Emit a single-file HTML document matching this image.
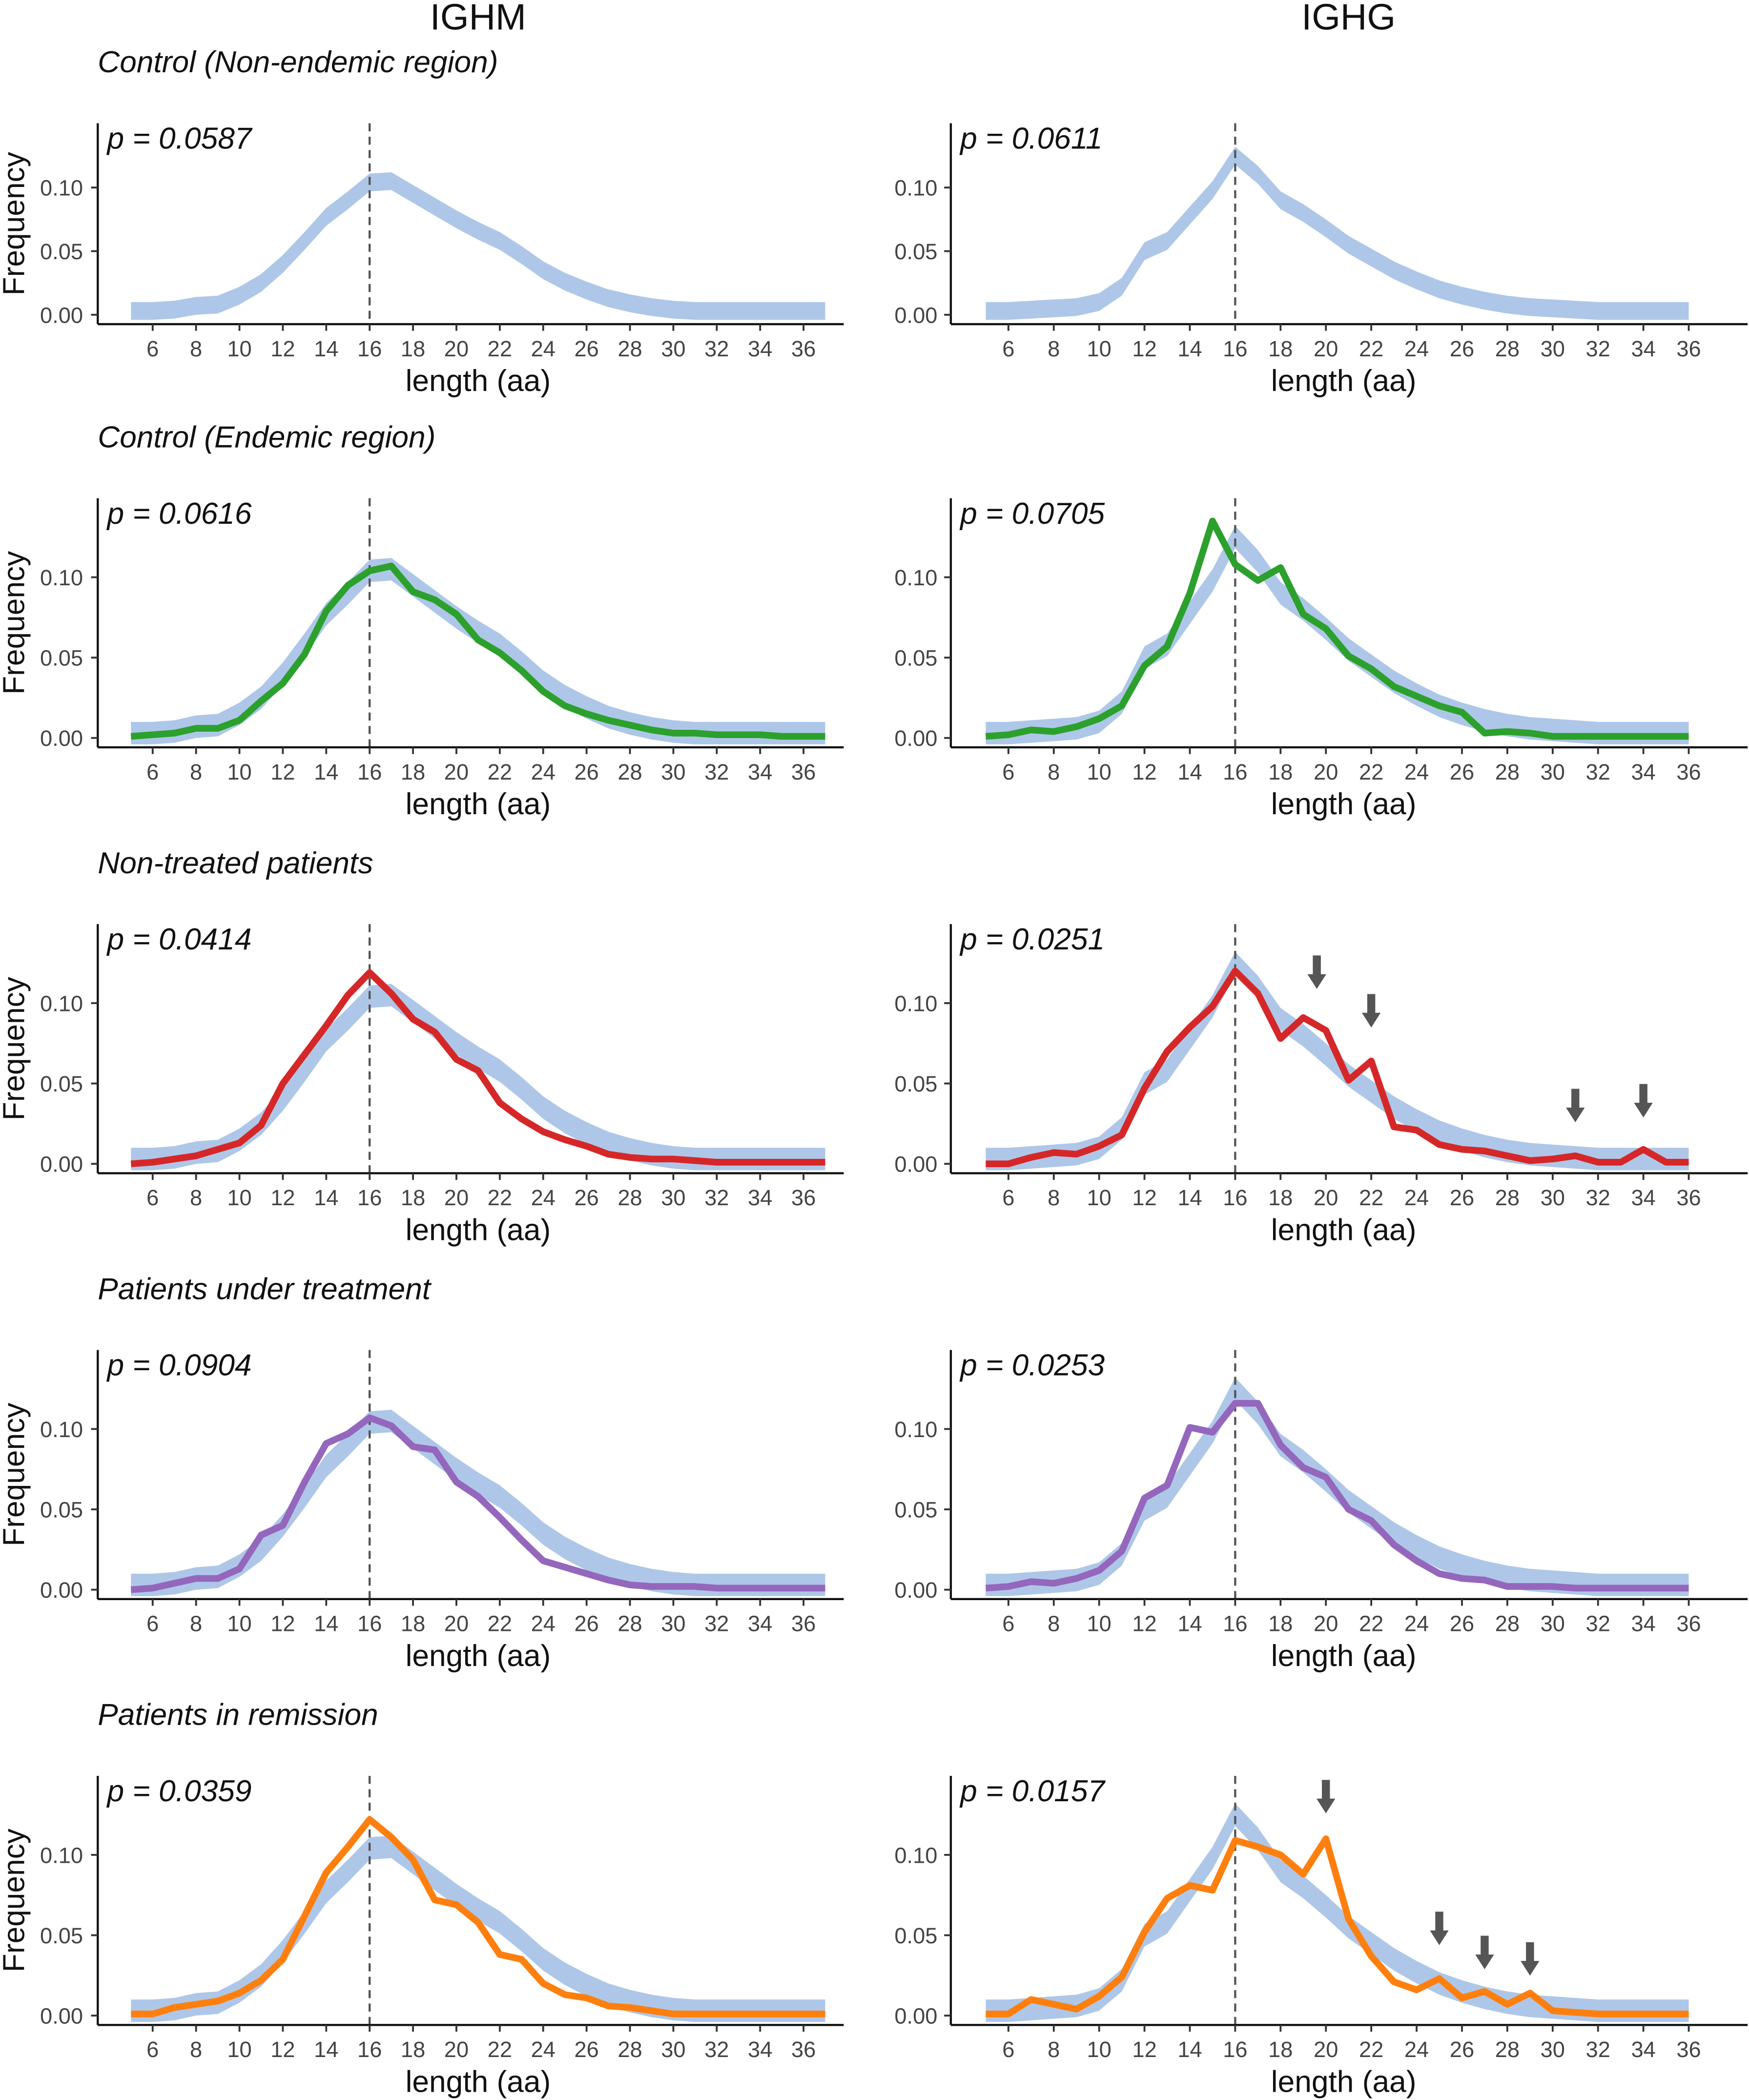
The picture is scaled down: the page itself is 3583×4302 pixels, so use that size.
<!DOCTYPE html>
<html><head><meta charset="utf-8">
<style>
html,body{margin:0;padding:0;background:#fff;}
svg{display:block;}
text{font-family:"Liberation Sans",Arial,sans-serif;}
</style></head>
<body>
<svg id="chart" width="3583" height="4302" viewBox="0 0 1306 1568" xmlns="http://www.w3.org/2000/svg">
<text x="357" y="22" font-size="27.5" text-anchor="middle" fill="#111">IGHM</text>
<text x="1007" y="22" font-size="27.5" text-anchor="middle" fill="#111">IGHG</text>
</svg>
<script>
const lengthsM = [5,6,7,8,9,10,11,12,13,14,15,16,17,18,19,20,21,22,23,24,25,26,27,28,29,30,31,32,33,34,35,36,37];
const lengthsG = [5,6,7,8,9,10,11,12,13,14,15,16,17,18,19,20,21,22,23,24,25,26,27,28,29,30,31,32,33,34,35,36];
const xTicks = [6,8,10,12,14,16,18,20,22,24,26,28,30,32,34,36];
const yTicks = [0,0.05,0.10];
const yTickLabels = ["0.00","0.05","0.10"];
const bandHalfWidth = 0.007;
const bandM = [0.003,0.003,0.004,0.007,0.008,0.015,0.025,0.04,0.058,0.077,0.09,0.104,0.105,0.095,0.085,0.075,0.066,0.058,0.047,0.035,0.026,0.019,0.013,0.009,0.006,0.004,0.003,0.003,0.003,0.003,0.003,0.003,0.003];
const bandG = [0.003,0.003,0.004,0.005,0.006,0.01,0.022,0.05,0.058,0.078,0.098,0.125,0.11,0.09,0.08,0.068,0.055,0.045,0.035,0.027,0.02,0.015,0.011,0.008,0.006,0.005,0.004,0.003,0.003,0.003,0.003,0.003];
const titles = ["Control (Non-endemic region)","Control (Endemic region)","Non-treated patients","Patients under treatment","Patients in remission"];
const pM = ["p = 0.0587","p = 0.0616","p = 0.0414","p = 0.0904","p = 0.0359"];
const pG = ["p = 0.0611","p = 0.0705","p = 0.0251","p = 0.0253","p = 0.0157"];
const colors = [null,"#2ca02c","#d62728","#9467bd","#ff7f0e"];
const seriesM = [null,
 [0.001,0.002,0.003,0.006,0.006,0.011,0.023,0.034,0.052,0.079,0.095,0.104,0.107,0.091,0.086,0.077,0.061,0.053,0.042,0.029,0.02,0.015,0.011,0.008,0.005,0.003,0.003,0.002,0.002,0.002,0.001,0.001,0.001],
 [0,0.001,0.003,0.005,0.009,0.013,0.024,0.05,0.068,0.086,0.105,0.119,0.106,0.09,0.082,0.065,0.058,0.038,0.028,0.02,0.015,0.011,0.006,0.004,0.003,0.003,0.002,0.001,0.001,0.001,0.001,0.001,0.001],
 [0,0.001,0.004,0.007,0.007,0.013,0.034,0.04,0.067,0.091,0.097,0.107,0.102,0.089,0.087,0.067,0.058,0.045,0.031,0.018,0.014,0.01,0.006,0.003,0.002,0.002,0.002,0.001,0.001,0.001,0.001,0.001,0.001],
 [0.001,0.001,0.005,0.007,0.009,0.014,0.022,0.035,0.062,0.089,0.105,0.122,0.111,0.097,0.072,0.069,0.058,0.038,0.035,0.02,0.013,0.011,0.006,0.005,0.003,0.001,0.001,0.001,0.001,0.001,0.001,0.001,0.001]
];
const seriesG = [null,
 [0.001,0.002,0.005,0.004,0.007,0.012,0.02,0.045,0.057,0.09,0.135,0.108,0.098,0.106,0.077,0.068,0.051,0.043,0.032,0.026,0.02,0.016,0.003,0.004,0.003,0.001,0.001,0.001,0.001,0.001,0.001,0.001],
 [0,0,0.004,0.007,0.006,0.011,0.018,0.047,0.07,0.085,0.098,0.12,0.106,0.078,0.091,0.083,0.052,0.064,0.023,0.021,0.012,0.009,0.008,0.005,0.002,0.003,0.005,0.001,0.001,0.009,0.001,0.001],
 [0.001,0.002,0.005,0.004,0.007,0.012,0.024,0.057,0.065,0.101,0.098,0.116,0.116,0.09,0.076,0.07,0.05,0.043,0.028,0.018,0.01,0.007,0.006,0.002,0.002,0.002,0.001,0.001,0.001,0.001,0.001,0.001],
 [0.001,0.001,0.01,0.007,0.004,0.012,0.024,0.052,0.073,0.081,0.078,0.109,0.105,0.1,0.088,0.11,0.06,0.037,0.021,0.016,0.023,0.011,0.015,0.007,0.014,0.003,0.002,0.001,0.001,0.001,0.001,0.001]
];
const arrowX = [[],[],[19.6,22,31,34],[],[20,25,27,29]];
const arrowY = [[],[],[0.118,0.094,0.035,0.038],[],[0.135,0.053,0.038,0.034]];

const NS="http://www.w3.org/2000/svg";
const svg=document.getElementById('chart');
function mk(tag,attrs,parent){const e=document.createElementNS(NS,tag);for(const k in attrs)e.setAttribute(k,attrs[k]);(parent||svg).appendChild(e);return e;}

const rowTitleY=[47,327,645,963,1281];
const rowZeroY=[235,551,869,1187,1505];
const rowScale=[950,1200,1200,1200,1200];
const rowTop=[92,372,690,1008,1326];
const panels=[
 {axisX:73,axisEnd:630,x6:114,x36:600,lengths:lengthsM,band:bandM,series:seriesM,p:pM,labelX:62,freqX:18,name:'ighm'},
 {axisX:710,axisEnd:1305,x6:753,x36:1261,lengths:lengthsG,band:bandG,series:seriesG,p:pG,labelX:700,freqX:null,name:'ighg'}
];

for(let r=0;r<5;r++){
 const t=mk('text',{x:73,y:rowTitleY[r]+7,'font-size':22.7,'font-style':'italic',fill:'#111'});
 
 
 t.textContent=titles[r];
 panels.forEach((P,pi)=>{
  const xs=v=>P.x6+(v-6)*(P.x36-P.x6)/30;
  const ys=v=>rowZeroY[r]-v*rowScale[r];
  const axisY=rowZeroY[r]+7;
  const g=mk('g',{});
  
  
  let pts=[];
  P.lengths.forEach((l,i)=>pts.push(xs(l)+','+ys(P.band[i]+bandHalfWidth)));
  for(let i=P.lengths.length-1;i>=0;i--)pts.push(xs(P.lengths[i])+','+ys(Math.max(P.band[i]-bandHalfWidth,-0.007)));
  const band=mk('polygon',{points:pts.join(' '),fill:'#aec7e8'},g);
  
  
  const dl=mk('line',{x1:xs(16),x2:xs(16),y1:rowTop[r],y2:axisY,stroke:'#555','stroke-width':1.6,'stroke-dasharray':'6,4'},g);
  
  
  if(P.series[r]){
   const d=P.lengths.map((l,i)=>(i?'L':'M')+xs(l)+','+ys(P.series[r][i])).join(' ');
   const ln=mk('path',{d:d,fill:'none',stroke:colors[r],'stroke-width':5,'stroke-linejoin':'round'},g);
   
   
  }
  const ya=mk('line',{x1:P.axisX,x2:P.axisX,y1:rowTop[r],y2:axisY,stroke:'#111','stroke-width':1.6},g);
  
  
  const xa=mk('line',{x1:P.axisX,x2:P.axisEnd,y1:axisY,y2:axisY,stroke:'#111','stroke-width':1.6},g);
  
  
  yTicks.forEach((v,i)=>{
   mk('line',{x1:P.axisX-5,x2:P.axisX,y1:ys(v),y2:ys(v),stroke:'#333','stroke-width':1.4},g);
   const tl=mk('text',{x:P.labelX,y:ys(v)+6,'font-size':16.5,'text-anchor':'end',fill:'#444'},g);
   
   
   tl.textContent=yTickLabels[i];
  });
  xTicks.forEach(v=>{
   mk('line',{x1:xs(v),x2:xs(v),y1:axisY,y2:axisY+5,stroke:'#333','stroke-width':1.4},g);
   const tl=mk('text',{x:xs(v),y:axisY+24,'font-size':16.5,'text-anchor':'middle',fill:'#444'},g);
   
   
   tl.textContent=v;
  });
  const xt=mk('text',{x:xs(16)+81,y:axisY+50,'font-size':22.7,'text-anchor':'middle',fill:'#111'},g);
  
  
  xt.textContent='length (aa)';
  if(P.freqX){
   const cy=(rowTop[r]+axisY)/2;
   const ft=mk('text',{x:P.freqX,y:cy,'font-size':22.7,'text-anchor':'middle',fill:'#111',transform:'rotate(-90 '+P.freqX+' '+cy+')'},g);
   
   
   ft.textContent='Frequency';
  }
  const pt=mk('text',{x:P.axisX+7,y:rowTop[r]+19,'font-size':22.7,'font-style':'italic',fill:'#111'},g);
  
  
  pt.textContent=P.p[r];
  if(pi===1){
   arrowX[r].forEach((ax,i)=>{
    const x=xs(ax),y=ys(arrowY[r][i]);
    const a=mk('path',{d:`M${x-3},${y-14} L${x+3},${y-14} L${x+3},${y} L${x+7},${y} L${x},${y+11} L${x-7},${y} L${x-3},${y} Z`,fill:'#555'},g);
    
    
   });
  }
 });
}
</script>
</body></html>
